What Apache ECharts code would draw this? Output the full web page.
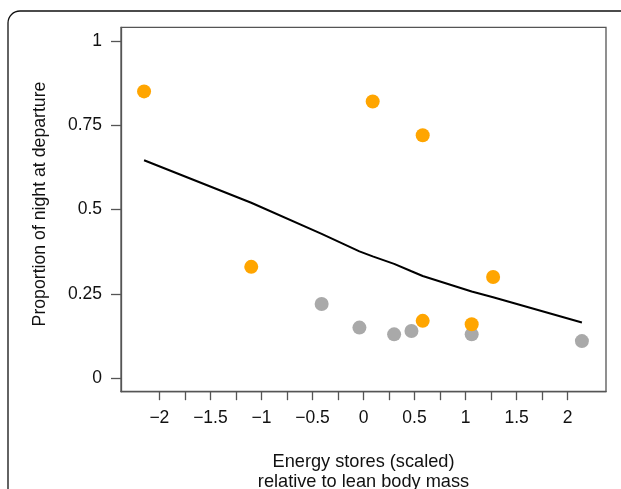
<!DOCTYPE html>
<html>
<head>
<meta charset="utf-8">
<script src="https://cdn.jsdelivr.net/npm/echarts@6/dist/echarts.min.js"></script>
<style>
html,body{margin:0;padding:0;background:#fff;}
#chart{width:621px;height:489px;}
</style>
</head>
<body>
<div id="chart"></div>
<script>
// Data
const orangeX = [-2.15, 0.09, 0.58, -1.10, 1.27, 0.58, 1.06];
const orangeY = [0.85, 0.82, 0.72, 0.33, 0.30, 0.17, 0.16];
const grayX = [-0.41, -0.04, 0.30, 0.47, 1.06, 2.14];
const grayY = [0.22, 0.15, 0.13, 0.14, 0.13, 0.11];
const curveX = [-2.15, -1.10, -0.41, -0.04, 0.09, 0.30, 0.47, 0.58, 1.06, 1.27, 2.14];
const curveY = [0.646, 0.520, 0.428, 0.376, 0.361, 0.339, 0.317, 0.303, 0.257, 0.240, 0.165];
const xTicks = [-2, -1.75, -1.5, -1.25, -1, -0.75, -0.5, -0.25, 0, 0.25, 0.5, 0.75, 1, 1.25, 1.5, 1.75, 2];
const xLabels = [-2, -1.5, -1, -0.5, 0, 0.5, 1, 1.5, 2];
const yTicks = [0, 0.25, 0.5, 0.75, 1];
const xTitle = 'Energy stores (scaled)\nrelative to lean body mass';
const yTitle = 'Proportion of night at departure';

const zip = (xs, ys) => xs.map((x, i) => [x, ys[i]]);
const axisGray = '#555';
const textColor = '#111';
const font = 'Liberation Sans, Arial, sans-serif';

const chart = echarts.init(document.getElementById('chart'), null, {renderer: 'canvas'});
chart.setOption({
  animation: false,
  backgroundColor: '#fff',
  graphic: [{
    type: 'rect',
    shape: {x: 8, y: 11, width: 800, height: 700, r: 12},
    style: {fill: 'none', stroke: '#111', lineWidth: 1.3},
    silent: true
  }],
  grid: {
    left: 121, top: 27.3, right: 15, bottom: 97.3,
    outerBoundsMode: 'none', containLabel: false,
    show: true, borderColor: axisGray, borderWidth: 1.3, backgroundColor: 'transparent'
  },
  xAxis: {
    type: 'value', min: -2.376, max: 2.376,
    splitLine: {show: false},
    axisLine: {show: true, onZero: false, lineStyle: {color: axisGray, width: 1.3}},
    axisTick: {show: true, inside: false, length: 8.5, customValues: xTicks, lineStyle: {color: axisGray, width: 1.3}},
    axisLabel: {
      customValues: xLabels, margin: 17, fontSize: 17.5, fontFamily: font, color: textColor,
      formatter: v => String(v).replace('-', '\u2212')
    },
    name: xTitle, nameLocation: 'middle', nameGap: 60,
    nameTextStyle: {fontSize: 18.2, fontFamily: font, color: textColor, lineHeight: 20}
  },
  yAxis: {
    type: 'value', min: -0.04, max: 1.04,
    splitLine: {show: false},
    axisLine: {show: true, onZero: false, lineStyle: {color: axisGray, width: 1.3}},
    axisTick: {show: true, inside: false, length: 10, customValues: yTicks, lineStyle: {color: axisGray, width: 1.3}},
    axisLabel: {
      customValues: yTicks, margin: 19, fontSize: 17.5, fontFamily: font, color: textColor
    },
    name: yTitle, nameLocation: 'middle', nameGap: 72, nameRotate: 90,
    nameTextStyle: {fontSize: 17.7, fontFamily: font, color: textColor, padding: [0, 0, 0, 11]}
  },
  series: [
    {
      type: 'line', data: zip(curveX, curveY), showSymbol: false, symbol: 'none',
      lineStyle: {color: '#000', width: 2}, z: 2
    },
    {
      type: 'scatter', data: zip(grayX, grayY), symbol: 'circle', symbolSize: 14,
      itemStyle: {color: '#A9A9A9', opacity: 1}, z: 3
    },
    {
      type: 'scatter', data: zip(orangeX, orangeY), symbol: 'circle', symbolSize: 14,
      itemStyle: {color: '#FFA500', opacity: 1}, z: 4
    }
  ]
});
</script>
</body>
</html>
